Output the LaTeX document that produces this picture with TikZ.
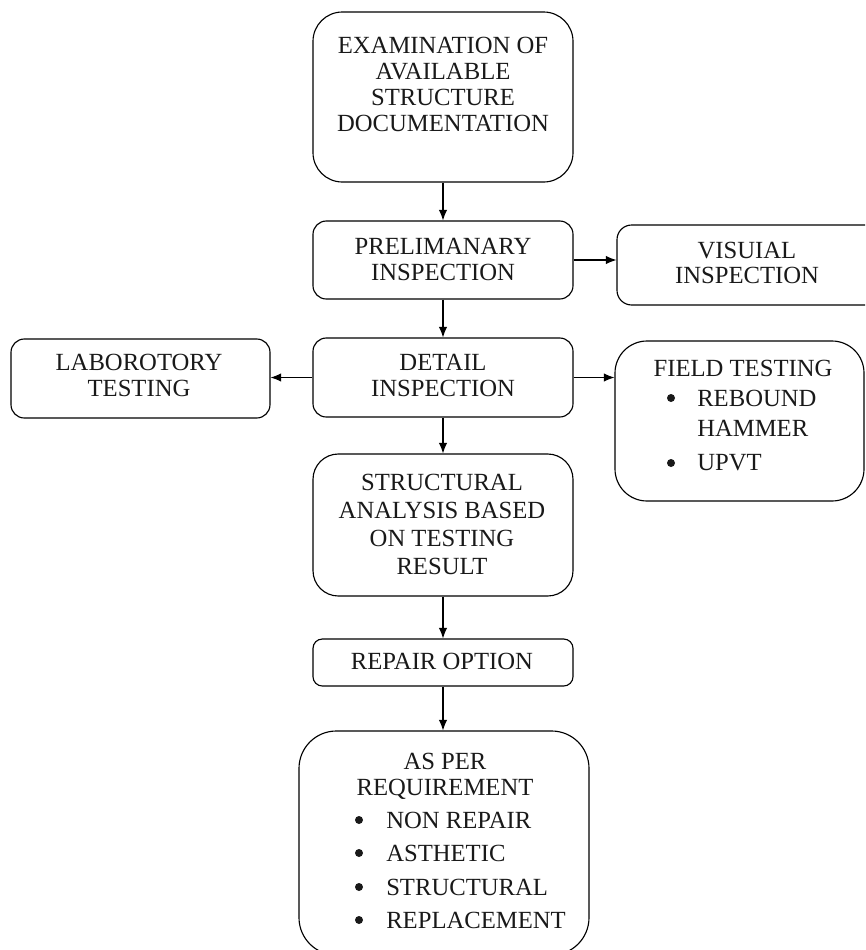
\documentclass[tikz,border=0pt]{standalone}
\usepackage{fontspec}
\setmainfont{Liberation Serif}
\usetikzlibrary{fit,arrows.meta}
\begin{document}
\begin{tikzpicture}[x=0.75pt,y=-0.75pt,
  box/.style={draw, line width=0.85pt, inner sep=0pt},
  txt/.style={align=center, inner sep=0pt, font=\fontsize{18.5}{19.4}\selectfont, text=black!90},
  itm/.style={anchor=west, align=left, inner sep=0pt, font=\fontsize{18.5}{22.5}\selectfont, text=black!90},
  arr/.style={line width=0.85pt, -{Latex[length=8pt,width=6.5pt]}},
  dot/.style={fill=black!90}]
\clip (0,0) rectangle (865,950);
% boxes
\node[box, rounded corners=22pt, fit={(313,12) (573,182)}] (b1) {};
\node[box, rounded corners=10pt, fit={(313,221) (573,299)}] (b2) {};
\node[box, rounded corners=11pt, fit={(617,225) (890,305)}] (vis) {};
\node[box, rounded corners=10pt, fit={(313,338) (573,417)}] (det) {};
\node[box, rounded corners=10pt, fit={(11,339) (270,418)}] (lab) {};
\node[box, rounded corners=24pt, fit={(615,341) (864,501)}] (fld) {};
\node[box, rounded corners=19pt, fit={(313,454) (573,596)}] (str) {};
\node[box, rounded corners=7pt, fit={(313,639) (573,686)}] (rep) {};
\node[box, rounded corners=28pt, fit={(299,731) (589,955)}] (asp) {};
% texts
\node[txt] (t1) at (443,84.5) {EXAMINATION OF\\AVAILABLE\\STRUCTURE\\DOCUMENTATION};
\node[txt] (t2) at (443,259.5) {PRELIMANARY\\INSPECTION};
\node[txt] (t3) at (747,263) {VISUIAL\\INSPECTION};
\node[txt] (t4) at (443,375.5) {DETAIL\\INSPECTION};
\node[txt] (t5) at (139,375.5) {LABOROTORY\\TESTING};
\node[txt] (t6) at (743,368) {FIELD TESTING};
\node[itm] (f1) at (697,413) {REBOUND\\HAMMER};
\node[itm] (f2) at (697,463) {UPVT};
\fill[dot] (671,398) circle[radius=3pt];
\fill[dot] (671,463) circle[radius=3pt];
\node[txt, font=\fontsize{18.5}{20.8}\selectfont] (t7) at (442,524.5) {STRUCTURAL\\ANALYSIS BASED\\ON TESTING\\RESULT};
\node[txt] (t8) at (442,661) {REPAIR OPTION};
\node[txt] (t9) at (445,776) {AS PER\\REQUIREMENT};
\node[itm] (r1) at (386,820) {NON REPAIR};
\node[itm] (r2) at (386,853) {ASTHETIC};
\node[itm] (r3) at (386,887) {STRUCTURAL};
\node[itm] (r4) at (386,920) {REPLACEMENT};
\fill[dot] (359,820) circle[radius=3pt];
\fill[dot] (359,853) circle[radius=3pt];
\fill[dot] (359,887) circle[radius=3pt];
\fill[dot] (359,920) circle[radius=3pt];
% arrows
\draw[arr] (b1.south) -- (b2.north);
\draw[arr] (b2.east) -- (b2.east -| vis.west);
\draw[arr] (b2.south) -- (det.north);
\draw[arr] (det.west) -- (det.west -| lab.east);
\draw[arr] (det.east) -- (det.east -| fld.west);
\draw[arr] (det.south) -- (str.north);
\draw[arr] (str.south) -- (rep.north);
\draw[arr] (rep.south) -- (rep.south |- asp.north);
\end{tikzpicture}
\end{document}
